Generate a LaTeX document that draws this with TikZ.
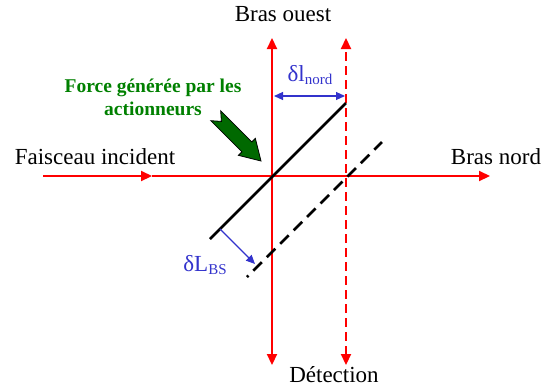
\documentclass[tikz,border=0pt]{standalone}
\usepackage{fontspec}
\setmainfont{Liberation Serif}
\usetikzlibrary{arrows.meta,positioning,calc}

\definecolor{forcegreen}{RGB}{0,128,0}
\definecolor{arrowgreen}{RGB}{0,105,0}
\definecolor{shiftblue}{RGB}{51,51,204}

\tikzset{
  beam/.style={red,line width=2.2pt,-{Triangle[length=11pt,width=10pt]}},
  beamtwo/.style={red,line width=2.2pt,{Triangle[length=11pt,width=10pt]}-{Triangle[length=11pt,width=10pt]}},
  beamdash/.style={beamtwo,dash pattern=on 9pt off 5pt},
  mirror/.style={black,line width=2.6pt},
  shiftarrow/.style={shiftblue,line width=1.1pt,-{Triangle[length=9pt,width=8pt]}},
  label/.style={font=\fontsize{23}{27}\selectfont},
  bluelabel/.style={shiftblue,font=\fontsize{23}{27}\selectfont}
}

\begin{document}
\begin{tikzpicture}[x=1pt,y=-1pt]
  \useasboundingbox (0,0) rectangle (542,389);

  \coordinate (src) at (43,176);
  \coordinate (mid) at (152,176);
  \coordinate (nordend) at (490,176);
  \coordinate (ouesttop) at (272,38);
  \coordinate (ouestbot) at (272,365);
  \coordinate (dtop) at (346,38);
  \coordinate (dbot) at (346,365);

  % faisceaux
  \draw[beam] (src) -- (mid);
  \draw[beam] (mid) -- (nordend);
  \draw[beamtwo] (ouestbot) -- (ouesttop);
  \draw[beamdash] (dbot) -- (dtop);

  % separatrice
  \coordinate (bs1) at (210,239);
  \coordinate (bs2) at (346,103);
  \coordinate (bd1) at (247,277);
  \coordinate (bd2) at (382,142);
  \draw[mirror] (bs1) -- (bs2);
  \draw[mirror,dash pattern=on 12pt off 7pt,dash phase=10pt] (bd1) -- (bd2);

  % deplacements
  \coordinate (dl1) at (274,96);
  \coordinate (dl2) at (345,96);
  \draw[shiftarrow,{Triangle[length=9pt,width=8pt]}-{Triangle[length=9pt,width=8pt]}] (dl1) -- (dl2);
  \coordinate (dL1) at (220,229);
  \coordinate (dL2) at (255,264);
  \draw[shiftarrow] (dL1) -- (dL2);

  % force
  \begin{scope}[shift={(261,161)},rotate=-45]
    \draw[fill=arrowgreen,line width=0.8pt,line join=miter]
      (-64,-7) -- (-20,-7) -- (-20,-12) -- (0,0) -- (-20,12) -- (-20,7)
      -- (-64,7) -- (-56,0) -- cycle;
  \end{scope}

  % textes
  \node[label] (ouest) at (283,14) {Bras ouest};
  \node[label] (nord) at (496,157) {Bras nord};
  \node[label] (detect) at (334,375) {Détection};
  \node[label] (faisceau) at (95,157) {Faisceau incident};
  \node[forcegreen,align=center,font=\bfseries\fontsize{19.5}{23}\selectfont] (force) at (153,97)
    {Force générée par les\\actionneurs};
  \node[bluelabel] (lnord) at (310,75) {δl\raisebox{-0.35ex}{\fontsize{15}{15}\selectfont nord}};
  \node[bluelabel] (lbs) at (205,265) {δL\raisebox{-0.35ex}{\fontsize{15}{15}\selectfont BS}};
\end{tikzpicture}
\end{document}
